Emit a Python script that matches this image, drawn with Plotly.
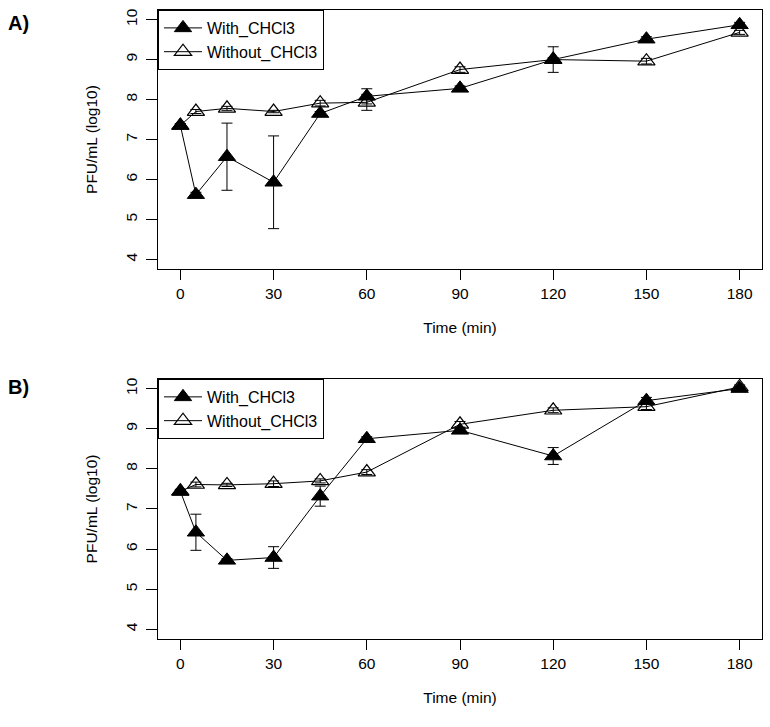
import plotly.graph_objects as go

time_min = [0, 5, 15, 30, 45, 60, 90, 120, 150, 180]

a_with = [7.35, 5.62, 6.57, 5.93, 7.65, 8.08, 8.28, 9.00, 9.51, 9.87]
a_with_err = [0.05, 0.06, 0.84, 1.16, 0.05, 0.19, 0.06, 0.32, 0.06, 0.06]
a_without = [7.35, 7.70, 7.78, 7.70, 7.91, 7.93, 8.75, 9.00, 8.96, 9.68]
a_without_err = [0.03, 0.05, 0.05, 0.03, 0.07, 0.20, 0.07, 0.05, 0.07, 0.05]

b_with = [7.44, 6.42, 5.72, 5.79, 7.32, 8.75, 8.96, 8.32, 9.70, 10.00]
b_with_err = [0.05, 0.45, 0.04, 0.27, 0.25, 0.05, 0.06, 0.21, 0.08, 0.05]
b_without = [7.44, 7.61, 7.60, 7.63, 7.70, 7.92, 9.11, 9.46, 9.55, 10.04]
b_without_err = [0.03, 0.06, 0.04, 0.07, 0.05, 0.06, 0.07, 0.06, 0.07, 0.05]

x_ticks = [0, 30, 60, 90, 120, 150, 180]
y_ticks = [4, 5, 6, 7, 8, 9, 10]

FONT = "Liberation Sans, Arial, Helvetica, sans-serif"
FS = 15.5
fig = go.Figure()


def add_pair(vals_with, err_with, vals_without, err_without, xa, ya, leg):
    fig.add_trace(go.Scatter(
        x=time_min, y=vals_without, mode="lines+markers", name="Without_CHCl3",
        xaxis=xa, yaxis=ya, legend=leg, legendrank=2,
        line=dict(color="black", width=1),
        marker=dict(symbol="triangle-up-open", size=15, color="black",
                    line=dict(color="black", width=1.2)),
        error_y=dict(type="data", array=err_without, visible=True,
                     color="black", thickness=1, width=5.5),
    ))
    fig.add_trace(go.Scatter(
        x=time_min, y=vals_with, mode="lines+markers", name="With_CHCl3",
        xaxis=xa, yaxis=ya, legend=leg, legendrank=1,
        line=dict(color="black", width=1),
        marker=dict(symbol="triangle-up", size=15, color="black",
                    line=dict(color="black", width=1)),
        error_y=dict(type="data", array=err_with, visible=True,
                     color="black", thickness=1, width=5.5),
    ))


add_pair(a_with, a_with_err, a_without, a_without_err, "x", "y", "legend")
add_pair(b_with, b_with_err, b_without, b_without_err, "x2", "y2", "legend2")

xaxis_common = dict(
    range=[-7.2, 187.2], tickvals=x_ticks, ticks="outside", ticklen=10,
    tickwidth=1, tickcolor="black", showline=True, linecolor="black",
    linewidth=1, mirror=True, showgrid=False, zeroline=False, automargin=False,
    tickfont=dict(family=FONT, size=FS, color="black"),
    title=dict(text="Time (min)", font=dict(family=FONT, size=FS, color="black"),
               standoff=21),
)
yaxis_common = dict(
    range=[3.76, 10.24], tickvals=y_ticks, ticks="outside", ticklen=11,
    tickwidth=1, tickcolor="black", showline=True, linecolor="black",
    linewidth=1, mirror=True, showgrid=False, zeroline=False, tickangle=-90,
    automargin=False, ticklabelstandoff=3,
    tickfont=dict(family=FONT, size=FS, color="black"),
    title=dict(text="PFU/mL (log10)", font=dict(family=FONT, size=FS, color="black"),
               standoff=21),
)

legend_common = dict(
    x=0, xanchor="left", bgcolor="white", bordercolor="black", borderwidth=1,
    font=dict(family=FONT, size=16, color="black"), yanchor="top",
    tracegroupgap=0, itemwidth=38,
)

fig.update_layout(
    template="none",
    width=770, height=727,
    margin=dict(l=158, r=8, t=10, b=88, autoexpand=False),
    plot_bgcolor="white", paper_bgcolor="white",
    font=dict(family=FONT, color="black"),
    xaxis=dict(domain=[0, 1], anchor="y", **xaxis_common),
    yaxis=dict(domain=[0.5882, 1], anchor="x", **yaxis_common),
    xaxis2=dict(domain=[0, 1], anchor="y2", **xaxis_common),
    yaxis2=dict(domain=[0, 0.4134], anchor="x2", **yaxis_common),
    legend=dict(y=1, **legend_common),
    legend2=dict(y=0.4134, **legend_common),
    showlegend=True,
    annotations=[
        dict(text="<b>A)</b>", xref="paper", yref="paper", x=-0.252, y=0.979,
             xanchor="left", yanchor="middle", showarrow=False,
             font=dict(family=FONT, size=20, color="black")),
        dict(text="<b>B)</b>", xref="paper", yref="paper", x=-0.252, y=0.4006,
             xanchor="left", yanchor="middle", showarrow=False,
             font=dict(family=FONT, size=20, color="black")),
    ],
)

fig.write_html("out.html", config={"displayModeBar": False},
               post_script="document.body.style.margin='0px';")
